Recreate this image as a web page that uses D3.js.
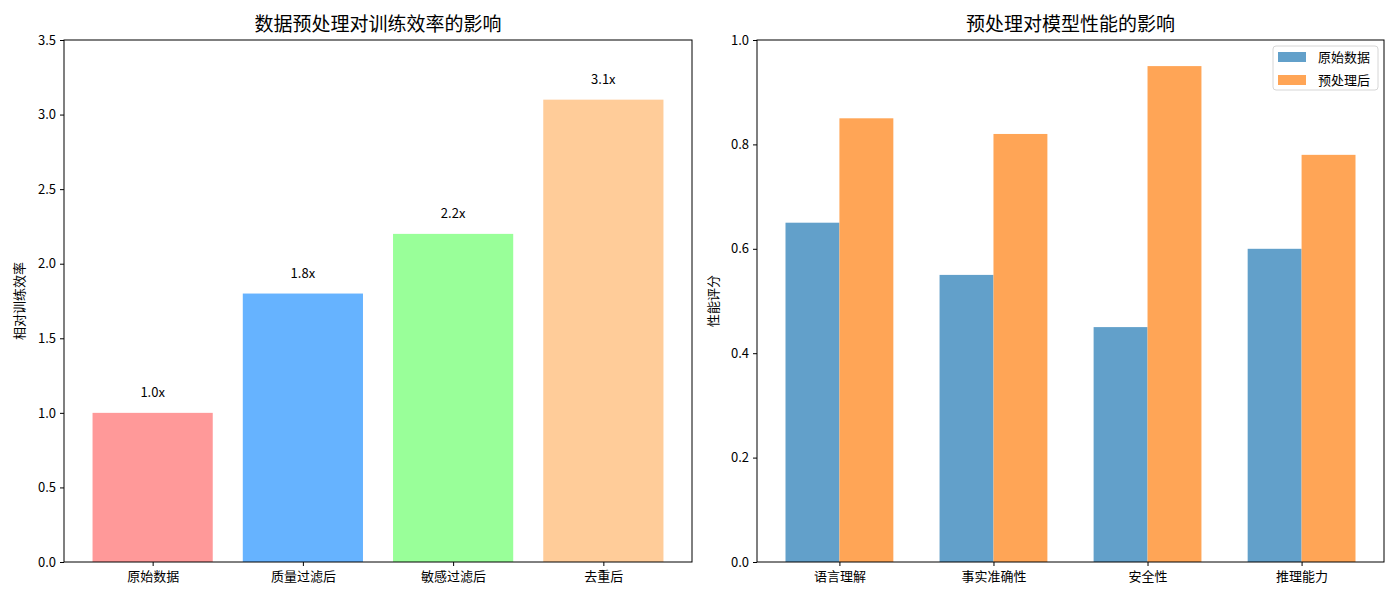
<!DOCTYPE html>
<html><head><meta charset="utf-8">
<script src="https://cdn.jsdelivr.net/npm/d3@7"></script>
<style>body{margin:0;background:#fff;} text{font-family:"Noto Sans CJK SC","DejaVu Sans",sans-serif;}</style>
</head><body>
<svg id="c" width="1400" height="600"></svg>
<script>
const stages = ["原始数据","质量过滤后","敏感过滤后","去重后"];
const efficiency = [1.0, 1.8, 2.2, 3.1];
const effLabels = ["1.0x","1.8x","2.2x","3.1x"];
const stageColors = ["#ff9999","#66b3ff","#99ff99","#ffcc99"];
const leftTicks = [0,0.5,1.0,1.5,2.0,2.5,3.0,3.5];

const abilities = ["语言理解","事实准确性","安全性","推理能力"];
const rawScores = [0.65, 0.55, 0.45, 0.60];
const procScores = [0.85, 0.82, 0.95, 0.78];
const seriesNames = ["原始数据","预处理后"];
const seriesColors = ["#62a0ca","#ffa556"];
const rightTicks = [0,0.2,0.4,0.6,0.8,1.0];

const svg = d3.select("#c");
const plotTop = 40, plotBottom = 562;
const FS = 13;

function frame(g, x0, x1, title, ylabel, ylabX) {
  g.append("rect").attr("x",x0).attr("y",plotTop).attr("width",x1-x0).attr("height",plotBottom-plotTop)
   .attr("fill","none").attr("stroke","#000").attr("stroke-width",1);
  g.append("text").attr("x",(x0+x1)/2).attr("y",plotTop-9).attr("text-anchor","middle")
   .attr("font-size",19).text(title);
  g.append("text").attr("transform",`translate(${ylabX},${(plotTop+plotBottom)/2}) rotate(-90)`)
   .attr("text-anchor","middle").attr("font-size",FS).text(ylabel);
}

function styleAxis(a){
  a.select(".domain").remove();
  a.selectAll(".tick line").attr("stroke","#000");
  a.selectAll(".tick text").attr("font-size",FS).attr("fill","#000")
   .style("font-family",'"Noto Sans CJK SC","DejaVu Sans",sans-serif');
}

// Left chart
{
  const x0 = 64, x1 = 692;
  const x = d3.scaleLinear().domain([-0.59, 3.59]).range([x0, x1]);
  const y = d3.scaleLinear().domain([0, 3.5]).range([plotBottom, plotTop]);
  const g = svg.append("g");
  g.selectAll("rect.bar").data(efficiency).join("rect").attr("class","bar")
   .attr("x",(d,i)=>x(i-0.4)).attr("width",x(0.4)-x(-0.4))
   .attr("y",d=>y(d)).attr("height",d=>y(0)-y(d)).attr("fill",(d,i)=>stageColors[i]);
  g.selectAll("text.lbl").data(efficiency).join("text").attr("class","lbl")
   .attr("x",(d,i)=>x(i)).attr("y",d=>y(d+0.1)-1).attr("text-anchor","middle")
   .attr("font-size",FS).text((d,i)=>effLabels[i]);
  const ya = g.append("g").attr("transform",`translate(${x0},0)`)
   .call(d3.axisLeft(y).tickValues(leftTicks).tickFormat(d3.format(".1f")).tickSize(4).tickPadding(4));
  styleAxis(ya);
  const xa = g.append("g").attr("transform",`translate(0,${plotBottom})`)
   .call(d3.axisBottom(x).tickValues([0,1,2,3]).tickFormat(i=>stages[i]).tickSize(4).tickPadding(6));
  styleAxis(xa);
  frame(g, x0, x1, "数据预处理对训练效率的影响", "相对训练效率", 24);
}

// Right chart
{
  const x0 = 757, x1 = 1384;
  const x = d3.scaleLinear().domain([-0.535, 3.535]).range([x0, x1]);
  const y = d3.scaleLinear().domain([0, 1.0]).range([plotBottom, plotTop]);
  const g = svg.append("g");
  const w = 0.35;
  [rawScores, procScores].forEach((arr, s) => {
    g.selectAll(`rect.s${s}`).data(arr).join("rect").attr("class",`s${s}`)
     .attr("x",(d,i)=>x(i + (s===0 ? -w : 0))).attr("width",x(w)-x(0))
     .attr("y",d=>y(d)).attr("height",d=>y(0)-y(d)).attr("fill",seriesColors[s]);
  });
  const ya = g.append("g").attr("transform",`translate(${x0},0)`)
   .call(d3.axisLeft(y).tickValues(rightTicks).tickFormat(d3.format(".1f")).tickSize(4).tickPadding(4));
  styleAxis(ya);
  const xa = g.append("g").attr("transform",`translate(0,${plotBottom})`)
   .call(d3.axisBottom(x).tickValues([0,1,2,3]).tickFormat(i=>abilities[i]).tickSize(4).tickPadding(6));
  styleAxis(xa);
  frame(g, x0, x1, "预处理对模型性能的影响", "性能评分", 718);

  // legend
  const lg = g.append("g");
  lg.append("rect").attr("x",1273).attr("y",46).attr("width",105).attr("height",44)
   .attr("rx",3).attr("fill","#fff").attr("fill-opacity",0.8).attr("stroke","#d6d6d6");
  seriesNames.forEach((n,i)=>{
    lg.append("rect").attr("x",1278).attr("y",52+i*23).attr("width",28).attr("height",10).attr("fill",seriesColors[i]);
    lg.append("text").attr("x",1318).attr("y",62+i*23).attr("font-size",FS).text(n);
  });
}
</script>
</body></html>
